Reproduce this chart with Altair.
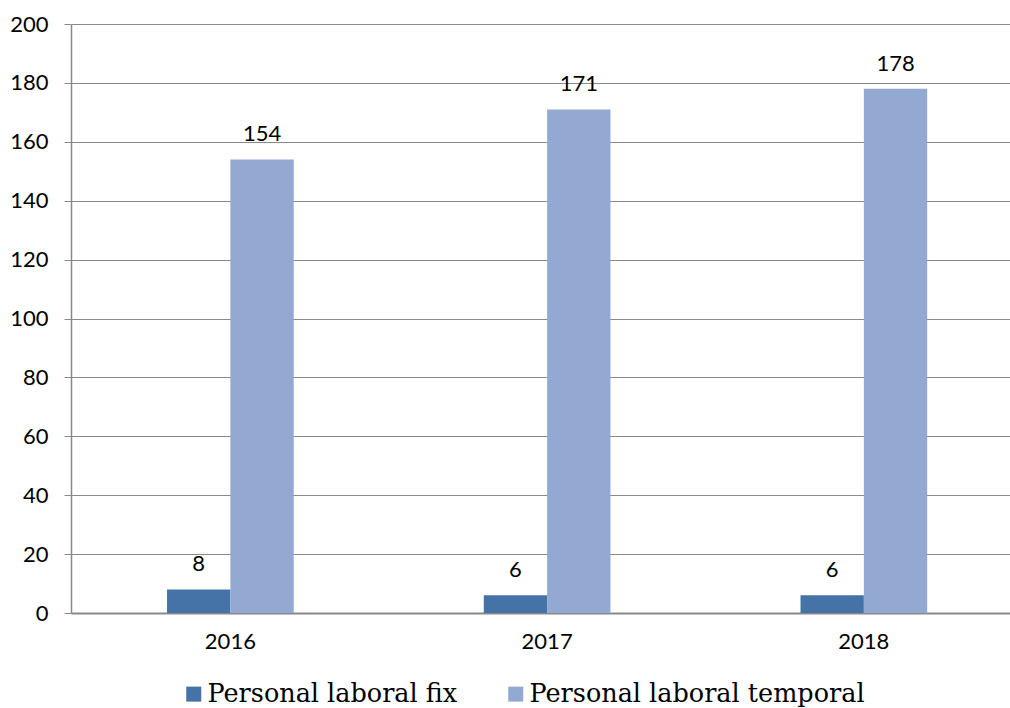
import altair as alt
import pandas as pd

years = ["2016", "2017", "2018"]
series = ["Personal laboral fix", "Personal laboral temporal"]
fix_values = [8, 6, 6]
temporal_values = [154, 171, 178]
y_ticks = [0, 20, 40, 60, 80, 100, 120, 140, 160, 180, 200]
colors = ["#4572a7", "#94a9d1"]

rows = []
for i, yr in enumerate(years):
    rows.append({"year": yr, "series": series[0], "value": fix_values[i]})
    rows.append({"year": yr, "series": series[1], "value": temporal_values[i]})
df = pd.DataFrame(rows)

grid_col = "#898989"

x = alt.X(
    "year:N", sort=years,
    scale=alt.Scale(paddingInner=0.6, paddingOuter=0.2823, align=0.537),
    axis=alt.Axis(title=None, labelAngle=0, ticks=False, domainColor=grid_col,
                  domainWidth=2, labelFont="Lato", labelFontSize=22,
                  labelColor="#000000", labelPadding=18),
)
xoff = alt.XOffset("series:N", sort=series,
                   scale=alt.Scale(paddingInner=0, paddingOuter=0))
y = alt.Y(
    "value:Q",
    scale=alt.Scale(domain=[0, 200], nice=False),
    axis=alt.Axis(values=y_ticks, title=None, grid=True, gridColor=grid_col,
                  gridWidth=1, tickColor=grid_col, tickSize=7, tickWidth=1,
                  domainColor=grid_col, domainWidth=1.5, labelFont="Lato",
                  labelFontSize=22, labelPadding=16, labelColor="#000000"),
)
color = alt.Color(
    "series:N", sort=series,
    scale=alt.Scale(domain=series, range=colors),
    legend=alt.Legend(title=None, orient="none", legendX=110, legendY=657,
                      direction="horizontal", symbolType="square",
                      symbolSize=225, symbolStrokeWidth=0,
                      labelFont="DejaVu Serif", labelFontSize=25.5,
                      labelColor="#000000", labelOffset=1, columnPadding=45,
                      labelLimit=0, padding=0),
)

bars = alt.Chart(df).mark_bar().encode(x=x, xOffset=xoff, y=y, color=color)
text = alt.Chart(df).mark_text(
    baseline="alphabetic", dy=-18, font="Lato", fontSize=22, color="#000000"
).encode(x=x, xOffset=xoff, y=y, text="value:Q")

chart = (bars + text).properties(
    width=939, height=589,
    autosize=alt.AutoSizeParams(type="none"),
    padding={"left": 71, "top": 24, "right": 0, "bottom": 95},
).configure_view(stroke=None)

chart.save("out.html", embed_options={"renderer": "svg", "actions": False})
